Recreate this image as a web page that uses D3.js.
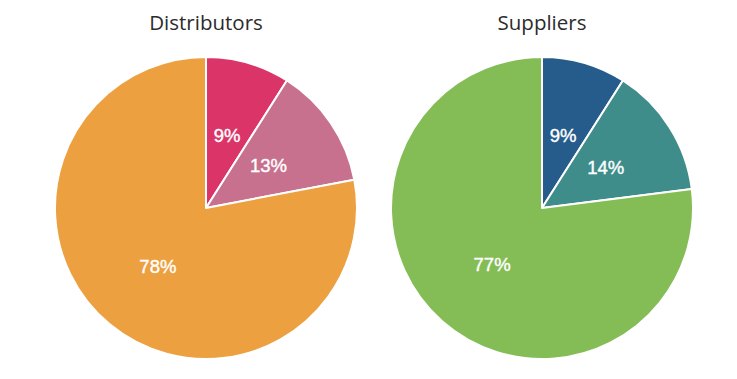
<!DOCTYPE html>
<html><head><meta charset="utf-8">
<script src="https://cdn.jsdelivr.net/npm/d3@7"></script>
<style>body{margin:0;background:#fff}</style>
</head><body>
<script>
const titles = ["Distributors", "Suppliers"];
const categories = ["A", "B", "C"];
const distributorValues = [9, 13, 78];
const supplierValues = [9, 14, 77];
const distributorColors = ["#DA3468", "#C8718F", "#ECA040"];
const supplierColors = ["#265C8C", "#3E8D8B", "#84BC55"];

const W = 737, H = 379;
const svg = d3.select("body").append("svg").attr("width", W).attr("height", H);
const charts = [
  {title: titles[0], values: distributorValues, colors: distributorColors, cx: 206},
  {title: titles[1], values: supplierValues, colors: supplierColors, cx: 542}
];
const cy = 208, R = 151;
const pie = d3.pie().sort(null).value(d => d.v);
const arc = d3.arc().innerRadius(0).outerRadius(R);
const labelArc = d3.arc().innerRadius(0).outerRadius(R);

charts.forEach(c => {
  const data = categories.map((k, i) => ({k, v: c.values[i], color: c.colors[i]}));
  const g = svg.append("g").attr("transform", `translate(${c.cx},${cy})`);
  const arcs = pie(data);
  g.selectAll("path").data(arcs).join("path")
    .attr("d", arc).attr("fill", d => d.data.color)
    .attr("stroke", "#fff").attr("stroke-width", 2).attr("stroke-linejoin", "round");
  g.selectAll("text").data(arcs).join("text")
    .attr("transform", d => `translate(${labelArc.centroid(d)})`)
    .attr("text-anchor", "middle").attr("dy", "0.36em")
    .attr("fill", "#fff").attr("font-family", "Liberation Sans, Arial, sans-serif")
    .attr("font-size", 18.5)
    .attr("stroke", "#fff").attr("stroke-width", 0.4)
    .text(d => d.data.v + "%");
  svg.append("text").attr("x", c.cx).attr("y", 30)
    .attr("text-anchor", "middle").attr("fill", "#2b2b2b")
    .attr("font-family", "Open Sans, sans-serif").attr("font-size", 20.5)
    .text(c.title);
});
</script>
</body></html>
